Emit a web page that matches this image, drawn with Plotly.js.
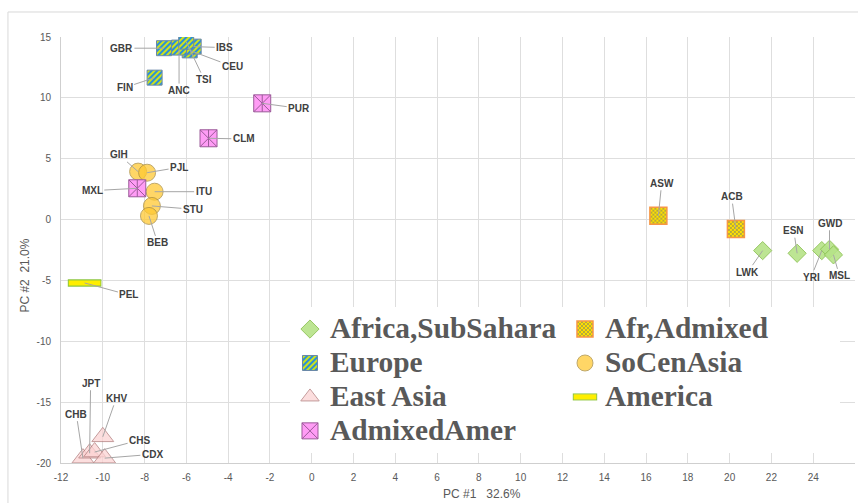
<!DOCTYPE html>
<html><head><meta charset="utf-8">
<script src="https://cdn.plot.ly/plotly-3.0.1.min.js"></script>
<style>html,body{margin:0;padding:0;background:#fff;} #chart{width:858px;height:503px;}</style>
</head><body><div id="chart"></div>
<script>
// ---- data ----
const africaNames = ['LWK','ESN','YRI','GWD','MSL'];
const africaX = [21.58, 23.23, 24.41, 24.78, 24.97];
const africaY = [-2.55, -2.77, -2.55, -2.44, -2.9];

const afrAdmNames = ['ASW','ACB'];
const afrAdmX = [16.59, 20.3];
const afrAdmY = [0.32, -0.77];

const europeNames = ['GBR','FIN','CEU','IBS','ANC','TSI'];
const europeX = [-7.07, -7.52, -5.84, -5.65, -6.35, -6.01];
const europeY = [14.08, 11.66, 13.9, 14.21, 14.13, 14.62];

const socenNames = ['GIH','PJL','ITU','STU','BEB'];
const socenX = [-8.31, -7.88, -7.52, -7.65, -7.79];
const socenY = [3.94, 3.85, 2.29, 1.12, 0.3];

const eastNames = ['KHV','CHB','JPT','CHS','CDX'];
const eastX = [-10.0, -10.95, -10.63, -10.39, -9.91];
const eastY = [-17.85, -19.6, -19.2, -19.1, -19.6];

const americaNames = ['PEL'];
const americaX = [-10.87];
const americaY = [-5.21];

const admAmerNames = ['PUR','CLM','MXL'];
const admAmerX = [-2.37, -4.94, -8.35];
const admAmerY = [9.55, 6.68, 2.57];

const legendNames = ['Africa,SubSahara','Afr,Admixed','Europe','SoCenAsia','East Asia','America','AdmixedAmer'];
const xTickVals = [-12,-10,-8,-6,-4,-2,0,2,4,6,8,10,12,14,16,18,20,22,24,26];
const xTickText = ['-12','-10','-8','-6','-4','-2','0','2','4','6','8','10','12','14','16','18','20','22','24','26'];
const yTickVals = [-20,-15,-10,-5,0,5,10,15];
const yTickText = ['-20','-15','-10','-5','0','5','10','15'];
const xTitle = 'PC #1\u00a0\u00a0\u00a032.6%';
const yTitle = 'PC #2\u00a0\u00a021.0%';

// ---- label placement (pixel offsets of label from point) ----
const labelOffsets = {
  LWK:[-15,21.6], ESN:[-3.3,-22.6], YRI:[-10.7,26.6], GWD:[0,-26], MSL:[6,21],
  ASW:[3.3,-32.4], ACB:[-4.3,-32.3],
  GBR:[-42.6,0], FIN:[-30,10], CEU:[42.7,16], IBS:[31,1], ANC:[0,43], TSI:[18,38],
  GIH:[-19,-16.7], PJL:[32,-5.4], ITU:[49,0], STU:[41,3.3], BEB:[8.7,27],
  KHV:[13.4,-38.5], CHB:[-6.6,-44], JPT:[1,-70], CHS:[45,-12], CDX:[47.7,-3.8],
  PEL:[44.3,12],
  PUR:[37,5], CLM:[35.3,0.7], MXL:[-45,2.4]
};

const legLabel = s => '<span style="font-size:29.4px;font-weight:bold">' + s + '</span>';

const traces = [
  {name:legLabel(legendNames[0]), x:africaX, y:africaY, text:africaNames, type:'scatter', mode:'markers',
   marker:{symbol:'diamond', size:14, color:'#b6e388', opacity:0.9, line:{color:'#8cc152', width:1}}},
  {name:legLabel(legendNames[1]), x:afrAdmX, y:afrAdmY, text:afrAdmNames, type:'scatter', mode:'markers',
   marker:{symbol:'square', size:17, color:'#ffe000', line:{color:'#f79646', width:1.5}}},
  {name:legLabel(legendNames[2]), x:europeX, y:europeY, text:europeNames, type:'scatter', mode:'markers',
   marker:{symbol:'square', size:15, color:'#7fbf6a', line:{color:'#6a88a8', width:1}}},
  {name:legLabel(legendNames[3]), x:socenX, y:socenY, text:socenNames, type:'scatter', mode:'markers',
   marker:{symbol:'circle', size:17, color:'#ffc933', opacity:0.75, line:{color:'#a88a3a', width:1}}},
  {name:legLabel(legendNames[4]), x:eastX, y:eastY, text:eastNames, type:'scatter', mode:'markers',
   marker:{symbol:'triangle-up', size:19, color:'#fcd3d3', opacity:0.75, line:{color:'#b07a7a', width:1}}},
  {name:legendNames[5], x:americaX, y:americaY, showlegend:false, type:'scatter', mode:'markers',
   marker:{symbol:'line-ew', size:24, line:{color:'#8cc63f', width:7.5}}},
  {name:legLabel(legendNames[5]), x:americaX, y:americaY, text:americaNames, type:'scatter', mode:'markers',
   marker:{symbol:'line-ew', size:22.6, line:{color:'#ffee00', width:5}}},
  {name:legLabel(legendNames[6]), x:admAmerX, y:admAmerY, text:admAmerNames, type:'scatter', mode:'markers',
   marker:{symbol:'square-x', size:17, color:'#ff9cf5', line:{color:'#9a5a98', width:1}}},
  {name:legendNames[6], x:admAmerX, y:admAmerY, showlegend:false, type:'scatter', mode:'markers',
   marker:{symbol:'line-ns', size:12.1, line:{color:'#9a5a98', width:1}}}
];

const labelFont = {family:'Liberation Sans, Arial, sans-serif', size:10, color:'#404040', weight:'bold'};
const annotations = [];
traces.forEach(t => {
  if (!t.text) return;
  t.text.forEach((nm, i) => {
    const off = labelOffsets[nm] || [20, 0];
    annotations.push({x:t.x[i], y:t.y[i], xref:'x', yref:'y', text:nm, showarrow:true,
      arrowhead:0, arrowwidth:1, arrowcolor:'#a6a6a6', standoff:0, ax:off[0], ay:off[1], font:labelFont});
  });
});
const titleFont = {family:'Liberation Sans, Arial, sans-serif', size:12, color:'#595959'};
annotations.push({xref:'paper', yref:'paper', x:0.530, y:-0.073, xanchor:'center', yanchor:'middle',
  text:xTitle, showarrow:false, font:titleFont});
annotations.push({xref:'paper', yref:'paper', x:-0.0453, y:0.44, xanchor:'center', yanchor:'middle',
  text:yTitle, textangle:-90, showarrow:false, font:titleFont});

const tickFont = {family:'Liberation Sans, Arial, sans-serif', size:10, color:'#595959'};
const layout = {
  width:858, height:503,
  margin:{l:61, r:3, t:37, b:40, pad:0},
  paper_bgcolor:'#ffffff', plot_bgcolor:'#ffffff',
  showlegend:true,
  hovermode:false,
  xaxis:{range:[-12,26], tickmode:'array', tickvals:xTickVals, ticktext:xTickText,
    showgrid:true, gridcolor:'#dedede', gridwidth:1, ticklabelstandoff:5,
    zeroline:false, showline:true, linecolor:'#cfcfcf', linewidth:1, ticks:'', tickfont:tickFont,
    fixedrange:true},
  yaxis:{range:[-20,15], tickmode:'array', tickvals:yTickVals, ticktext:yTickText,
    showgrid:true, gridcolor:'#dedede', gridwidth:1, ticklabelstandoff:7,
    zeroline:false, showline:true, linecolor:'#cfcfcf', linewidth:1, ticks:'', tickfont:tickFont,
    fixedrange:true},
  legend:{orientation:'h', x:0.2884, y:0.366, xanchor:'left', yanchor:'top',
    bgcolor:'#ffffff', borderwidth:0, entrywidth:230, entrywidthmode:'pixels',
    font:{family:'Liberation Serif, Times New Roman, serif', size:23.8, color:'#595959'},
    itemclick:false, itemdoubleclick:false},
  annotations:annotations,
  shapes:[{type:'rect', xref:'paper', yref:'paper', x0:-0.0668, x1:1.02, y0:-0.11, y1:1.0587,
    line:{color:'#d9d9d9', width:1}, fillcolor:'rgba(0,0,0,0)', layer:'below'}]
};

const gd = document.getElementById('chart');
Plotly.newPlot(gd, traces, layout, {staticPlot:true, displayModeBar:false}).then(() => {
  const NS = 'http://www.w3.org/2000/svg';
  const svg = gd.querySelector('.main-svg');
  const defs = document.createElementNS(NS, 'defs');
  defs.innerHTML =
    '<pattern id="eurStripes" patternUnits="userSpaceOnUse" width="4" height="4" patternTransform="rotate(45)">' +
      '<rect width="4" height="4" fill="#cde21c"/><rect width="2" height="4" fill="#2a8fd8"/></pattern>' +
    '<pattern id="afrDots" patternUnits="userSpaceOnUse" width="4" height="4">' +
      '<rect width="4" height="4" fill="#ffe000"/><circle cx="1" cy="1" r="0.8" fill="#56648a"/>' +
      '<circle cx="3" cy="3" r="0.8" fill="#56648a"/></pattern>' +
    '<filter id="greenOutline" filterUnits="userSpaceOnUse" x="-25" y="-12" width="50" height="24">' +
      '<feMorphology in="SourceAlpha" operator="dilate" radius="1.2" result="dil"/>' +
      '<feFlood flood-color="#8cc63f" result="fl"/>' +
      '<feComposite in="fl" in2="dil" operator="in" result="outl"/>' +
      '<feMerge><feMergeNode in="outl"/><feMergeNode in="SourceGraphic"/></feMerge></filter>';
  svg.insertBefore(defs, svg.firstChild);
  const patterns = {1:'url(#afrDots)', 2:'url(#eurStripes)'};
  const traceGroups = gd.querySelectorAll('.scatterlayer .trace');
  Object.keys(patterns).forEach(k => {
    const g = traceGroups[+k];
    if (g) g.querySelectorAll('path.point').forEach(p => { p.style.fill = patterns[k]; });
  });
  const legItems = gd.querySelectorAll('.legend .traces');
  Object.keys(patterns).forEach(k => {
    const g = legItems[+k];
    if (g) g.querySelectorAll('.legendpoints path').forEach(p => { p.style.fill = patterns[k]; });
  });
  const amer = legItems[5];
  if (amer) amer.querySelectorAll('.legendpoints path').forEach(p => { p.setAttribute('filter', 'url(#greenOutline)'); });
});
</script>
</body></html>
